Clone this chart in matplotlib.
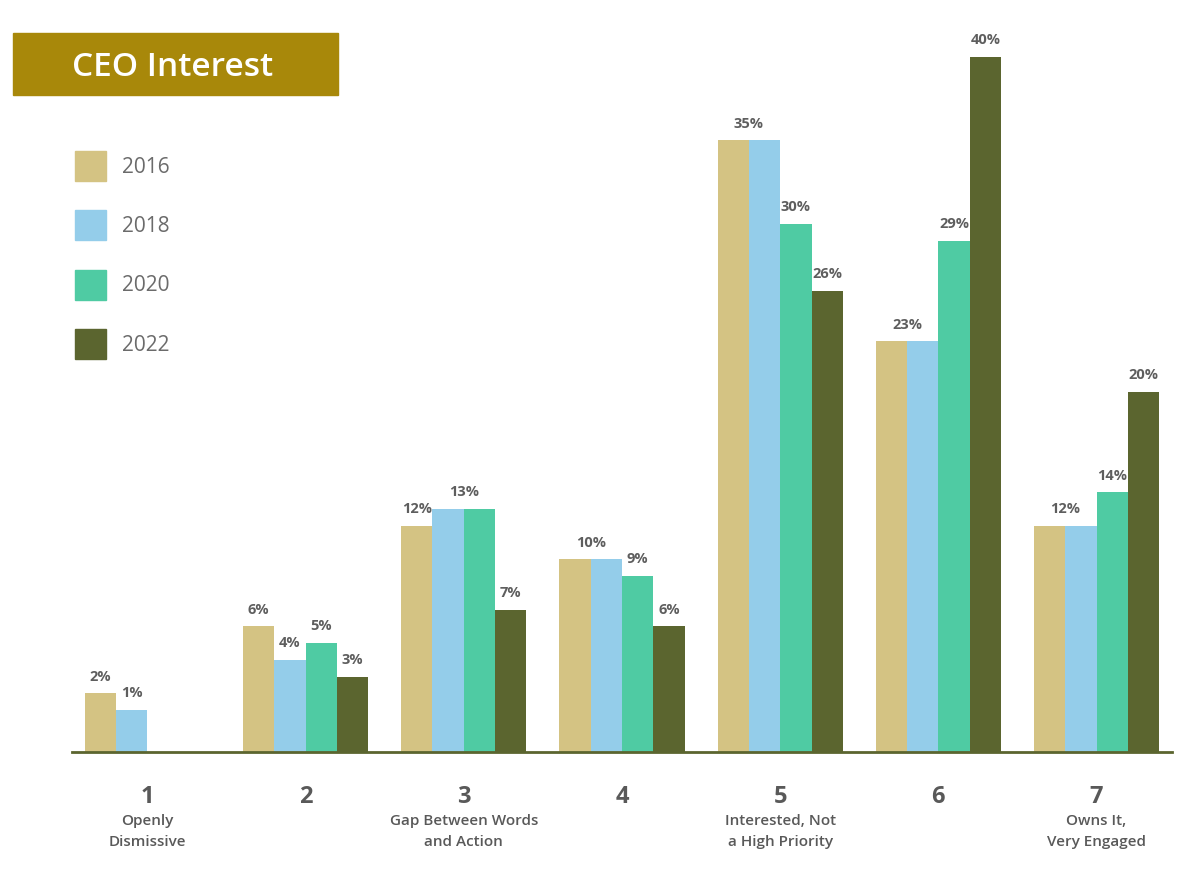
import matplotlib.pyplot as plt
import matplotlib.patches as mpatches
import numpy as np

plt.rcParams['font.family'] = ['Open Sans', 'DejaVu Sans']

# data
years = ['2016', '2018', '2020', '2022']
levels = ['1', '2', '3', '4', '5', '6', '7']
level_names = ['Openly\nDismissive', '', 'Gap Between Words\nand Action', '',
               'Interested, Not\na High Priority', '', 'Owns It,\nVery Engaged']
v2016 = [2, 6, 12, 10, 35, 23, 12]
v2018 = [1, 4, 13, 10, 35, 23, 12]
v2020 = [0, 5, 13, 9, 30, 29, 14]
v2022 = [0, 3, 7, 6, 26, 40, 20]

colors = ['#D4C383', '#94CDEA', '#4FCBA3', '#5B652F']
text_gray = '#595959'

series = [v2016, v2018, v2020, v2022]
base = -1.5          # bars start a little below zero, like the original
width = 0.198
x = np.arange(1, len(levels) + 1)

fig = plt.figure(figsize=(12, 8.73), dpi=100)
ax = fig.add_axes([72 / 1200, 121 / 873, 1100 / 1200, 0.835])

for i, vals in enumerate(series):
    vals = np.array(vals, dtype=float)
    pos = x + (i - 1.5) * width
    mask = vals > 0
    ax.bar(pos[mask], vals[mask] - base, bottom=base, width=width,
           color=colors[i], linewidth=0, label=years[i])

# value labels; equal neighbouring bars share one label
for g in range(len(levels)):
    vals = [s[g] for s in series]
    i = 0
    while i < len(vals):
        j = i
        while j + 1 < len(vals) and vals[j + 1] == vals[i]:
            j += 1
        if vals[i] > 0:
            cx = x[g] + ((i + j) / 2 - 1.5) * width
            ax.annotate(f'{vals[i]}%', (cx, vals[i]), xytext=(0, 7),
                        textcoords='offset points', ha='center', va='bottom',
                        fontsize=10.5, fontweight='bold', color='#5e5e5e')
        i = j + 1

ax.set_xlim(0.523, 7.477)
ax.set_ylim(base, 42.0)
for s in ['top', 'right', 'left']:
    ax.spines[s].set_visible(False)
ax.spines['bottom'].set_color('#5B652F')
ax.spines['bottom'].set_linewidth(2)
ax.set_yticks([])
ax.set_xticks([])

# category numbers and names below the axis
for g in range(len(levels)):
    ax.text(x[g], -0.045, levels[g], transform=ax.get_xaxis_transform(),
            ha='center', va='top', fontsize=17, fontweight='bold', color=text_gray)
    ax.text(x[g], -0.085, level_names[g], transform=ax.get_xaxis_transform(),
            ha='center', va='top', fontsize=11, fontweight='semibold',
            color=text_gray, linespacing=1.6)

# legend
handles = [mpatches.Patch(color=c, label=y) for c, y in zip(colors, years)]
fig.legend(handles=handles, loc='upper left', bbox_to_anchor=(75 / 1200, 1 - 151 / 873),
           frameon=False, fontsize=15, handlelength=1.5, handleheight=1.85,
           labelspacing=1.4, handletextpad=0.75, borderpad=0, borderaxespad=0,
           labelcolor='#6b6b6b')

# title box
fig.patches.append(mpatches.Rectangle((13 / 1200, 1 - 95 / 873), 325 / 1200, 62 / 873,
                                      transform=fig.transFigure, color='#A8880A'))
fig.text(173 / 1200, 1 - 67 / 873, 'CEO Interest', ha='center', va='center',
         fontsize=24, fontweight='semibold', color='white')

fig.savefig('out.png', dpi=100)
